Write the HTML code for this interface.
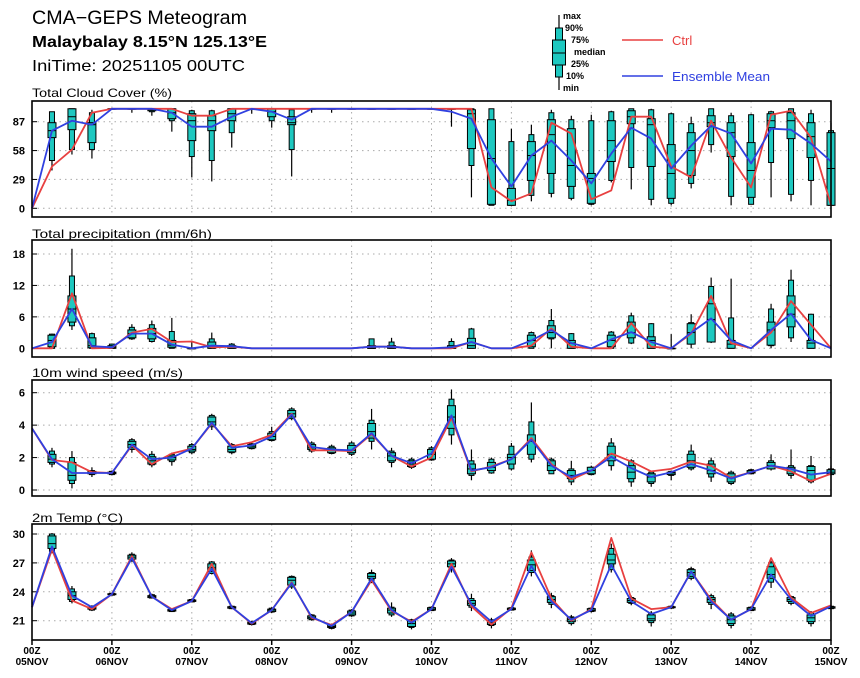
<!DOCTYPE html>
<html><head><meta charset="utf-8">
<style>
html,body{margin:0;padding:0;background:#fff;}
svg{display:block;font-family:"Liberation Sans",sans-serif;}
</style></head>
<body>
<svg id="chart" width="860" height="678" viewBox="0 0 860 678" xmlns="http://www.w3.org/2000/svg">
<rect x="0" y="0" width="860" height="678" fill="#fff"/>
<text x="32" y="24" font-size="19" textLength="215" lengthAdjust="spacingAndGlyphs">CMA−GEPS Meteogram</text>
<text x="32" y="47" font-size="16" font-weight="bold" textLength="235" lengthAdjust="spacingAndGlyphs">Malaybalay 8.15°N 125.13°E</text>
<text x="32" y="71" font-size="16" textLength="213" lengthAdjust="spacingAndGlyphs">IniTime: 20251105 00UTC</text>
<g>
<line x1="559" y1="15" x2="559" y2="90" stroke="#000" stroke-width="1.2"/>
<rect x="555.5" y="28" width="7" height="49" fill="#1ec8c0" stroke="#000"/>
<rect x="552.5" y="40" width="13" height="25" fill="#1ec8c0" stroke="#000"/>
<line x1="552.5" y1="53" x2="565.5" y2="53" stroke="#000"/>
<g font-size="9" font-weight="bold">
<text x="563" y="19">max</text><text x="565" y="31">90%</text><text x="571" y="43">75%</text>
<text x="574" y="55">median</text><text x="571" y="67">25%</text><text x="566" y="79">10%</text><text x="563" y="91">min</text>
</g>
<line x1="622" y1="40" x2="663" y2="40" stroke="#e84040" stroke-width="1.6"/>
<text x="672" y="45" font-size="13" fill="#e84040">Ctrl</text>
<line x1="622" y1="76" x2="663" y2="76" stroke="#3040e0" stroke-width="1.6"/>
<text x="672" y="81" font-size="13" fill="#3040e0" textLength="98" lengthAdjust="spacingAndGlyphs">Ensemble Mean</text>
</g>
</svg>
<script>
// ---- data ----
const dayLabels = ["05NOV","06NOV","07NOV","08NOV","09NOV","10NOV","11NOV","12NOV","13NOV","14NOV","15NOV"];
const cloudTicks = [0,29,58,87];
const precipTicks = [0,6,12,18];
const windTicks = [0,2,4,6];
const tempTicks = [21,24,27,30];

// stats per 6h step: [min,p10,p25,median,p75,p90,max]; null = no box
const cloudStats = [null,
[38,48,71,78,86,97,97],[54,59,79,92,100,100,100],[50,59,66,84,86,96,99],[100,100,100,100,100,100,100],
[96,100,100,100,100,100,100],[93,97,98,99,100,100,100],[77,88,90,96,100,100,100],[31,52,68,88,95,98,99],
[27,48,78,88,93,98,99],[61,76,88,95,100,100,100],[95,100,100,100,100,100,100],[81,88,92,97,100,100,100],
[32,59,84,86,92,99,100],[96,100,100,100,100,100,100],[96,100,100,100,100,100,100],[100,100,100,100,100,100,100],
[100,100,100,100,100,100,100],[100,100,100,100,100,100,100],[100,100,100,100,100,100,100],[100,100,100,100,100,100,100],
[82,100,100,100,100,100,100],[11,43,60,95,99,100,100],[3,3,4,50,89,100,100],[3,3,3,8,20,67,80],
[7,13,28,53,67,74,84],[11,15,35,74,89,96,99],[8,10,22,43,80,89,93],[3,4,5,30,35,88,94],
[26,28,47,68,88,97,98],[19,41,85,92,98,100,100],[3,9,42,84,90,99,100],[3,5,10,35,64,95,96],
[20,25,33,58,76,85,92],[56,64,82,86,93,100,100],[3,12,52,76,86,93,96],[4,4,11,38,66,94,95],
[11,46,81,88,95,97,98],[7,14,70,88,96,100,100],[3,28,51,72,86,95,99],[3,3,3,40,76,78,86]];
const cloudMean = [0,78,88,84,100,100,100,96,82,82,92,100,97,89,100,100,100,100,100,100,100,97,90,50,22,53,68,48,25,55,81,70,40,63,83,75,45,80,79,65,47];
const cloudCtrl = [0,42,59,96,100,100,100,100,93,93,100,100,100,100,100,100,100,100,100,100,100,100,100,21,7,15,86,75,9,18,92,92,42,31,88,51,21,94,98,71,3];

const precipStats = [null,
[0,0,0.3,1.5,2.5,2.7,2.8],[3.5,4.3,5,7.5,10,13.8,19],[0,0,0.1,0.5,2,2.8,3],[0,0,0,0.2,0.5,0.8,0.9],
[1.6,1.8,2,2.8,3.5,4,4.6],[1.1,1.3,1.8,2.8,3.8,4.5,5.3],[0,0,0.2,0.6,1.5,3.2,5.8],[0,0,0,0,0,0,1.2],
[0,0,0,0.5,1.2,1.8,3],[0,0,0,0.3,0.5,0.8,1],null,null,null,null,null,null,
[0,0,0,0,0.5,1.8,1.8],[0,0,0,0.2,0.5,1.2,2],null,null,
[0,0,0,0,0.5,1.3,1.9],[0,0,0,0.5,1.9,3.7,3.9],null,null,
[0,0,0.3,1.5,2.5,3,3.2],[0,1.8,2,3,4.3,5.3,7.5],[0,0,0,1,1.5,2.8,2.9],null,
[0,0,0.3,1.5,2.5,3.1,3.3],[0.8,1,2,3,5,6.2,6.8],[0,0,0,1.5,2.2,4.7,4.8],[0,0,0,0,0,0,2.7],
[0,0.8,0.8,3,4.7,4.9,6.5],[1,1.2,1.2,5.5,8.5,11.8,13.5],[0,0,0,0.8,1.5,5.8,13.3],null,
[0,0.5,0.6,3.5,5,7.5,8.5],[1.2,2,4.1,6.5,10,13,15],[0,0,0,1,1.5,6.5,6.6],null];
const precipMean = [0,1.2,7.5,0.4,0.2,2.8,2.8,0.7,0,0.5,0.4,0,0,0,0,0,0,0.3,0.3,0,0,0.2,1.2,0,0,1.5,3.5,1,0,1.7,3.1,1.2,0,3,5.7,1.5,0,3.5,6.6,1.6,0];
const precipCtrl = [0,0,10.5,0,0.1,3,3.7,1.2,1.3,0.2,0.3,0,0,0,0,0,0,0.3,0.3,0,0,0,1.2,0,0,0.5,3.8,0.3,0,0,4.8,0.3,0,2.8,10,1,0,3,9,4.5,0];

const windStats = [null,
[1.4,1.6,1.7,1.9,2.2,2.4,2.6],[0.1,0.4,0.6,0.9,1.7,2.0,2.4],[0.8,0.95,1.0,1.05,1.15,1.2,1.4],[0.9,0.95,1.0,1.05,1.1,1.15,1.2],
[2.3,2.5,2.6,2.8,3.0,3.1,3.2],[1.4,1.55,1.6,1.8,2.05,2.2,2.4],[1.5,1.75,1.85,2.0,2.1,2.2,2.3],[2.2,2.3,2.4,2.5,2.7,2.8,2.9],
[3.7,3.9,4.0,4.2,4.5,4.6,4.7],[2.2,2.3,2.35,2.5,2.7,2.8,2.9],[2.5,2.55,2.6,2.7,2.8,2.85,2.9],[3.0,3.05,3.1,3.3,3.5,3.6,3.9],
[4.3,4.4,4.5,4.7,4.9,5.0,5.1],[2.3,2.4,2.5,2.6,2.8,2.9,3.0],[2.2,2.25,2.3,2.45,2.6,2.7,2.8],[2.1,2.2,2.3,2.45,2.75,2.9,3.0],
[2.5,3.0,3.2,3.6,4.1,4.3,5.0],[1.4,1.7,1.8,2.1,2.3,2.4,2.6],[1.3,1.4,1.45,1.6,1.8,1.9,2.0],[1.8,1.85,1.9,2.2,2.5,2.6,2.7],
[2.8,3.4,3.8,4.5,5.2,5.6,6.2],[0.6,0.9,1.0,1.3,1.6,1.8,2.5],[1.0,1.05,1.2,1.4,1.7,1.9,2.0],[1.2,1.3,1.6,2.0,2.2,2.7,2.9],
[1.7,1.9,2.2,3.0,3.4,4.2,5.4],[1.0,1.0,1.2,1.5,1.8,1.9,2.0],[0.3,0.5,0.7,0.9,1.2,1.3,1.8],[0.9,0.95,1.0,1.2,1.4,1.4,1.5],
[1.2,1.5,1.8,2.2,2.7,2.9,3.2],[0.2,0.5,0.7,1.1,1.5,1.8,1.9],[0.2,0.4,0.5,0.8,1.0,1.1,1.2],[0.6,0.9,0.95,1.05,1.1,1.15,1.2],
[1.2,1.3,1.4,1.8,2.2,2.4,2.8],[0.5,0.8,1.0,1.2,1.6,1.8,2.0],[0.3,0.4,0.5,0.8,1.0,1.1,1.2],[1.0,1.0,1.05,1.1,1.2,1.25,1.3],
[1.2,1.3,1.3,1.5,1.7,1.8,2.2],[0.7,0.9,1.0,1.3,1.4,1.5,2.5],[0.4,0.5,0.6,1.2,1.45,1.5,2.1],[0.9,0.95,1.0,1.1,1.25,1.3,1.5]];
const windMean = [3.8,1.9,1.05,1.05,1.05,2.8,1.9,2.0,2.55,4.15,2.6,2.75,3.3,4.65,2.65,2.5,2.45,3.5,2.1,1.65,2.25,4.6,1.2,1.4,1.9,3.1,1.5,0.8,1.2,2.05,1.35,0.8,1.1,1.6,1.2,0.7,1.1,1.5,1.3,0.95,1.1];
const windCtrl = [3.8,1.85,1.7,1.1,1.05,2.75,1.6,2.25,2.55,4.1,2.7,2.95,3.4,4.7,2.45,2.45,2.4,3.45,2.1,1.45,2.0,4.45,1.15,1.45,1.9,3.2,1.6,0.65,1.2,2.25,1.75,1.15,1.3,1.75,1.5,0.75,1.1,1.5,1.15,0.55,1.0];

const tempStats = [null,
[28.0,28.2,28.5,29.0,29.8,30.0,30.1],[22.8,23.0,23.2,23.6,24.0,24.3,24.6],[22.0,22.1,22.2,22.3,22.4,22.5,22.6],[23.6,23.65,23.7,23.75,23.8,23.85,23.9],
[27.1,27.3,27.4,27.6,27.8,27.9,28.1],[23.3,23.35,23.4,23.5,23.6,23.7,23.8],[21.9,21.95,22.0,22.1,22.15,22.2,22.3],[22.9,22.95,23.0,23.05,23.15,23.2,23.3],
[25.8,25.9,26.1,26.5,26.9,27.1,27.2],[22.2,22.25,22.3,22.4,22.45,22.5,22.6],[20.5,20.6,20.65,20.75,20.85,20.9,21.0],[21.8,21.9,21.95,22.1,22.2,22.3,22.4],
[24.3,24.5,24.7,25.2,25.5,25.6,25.7],[21.0,21.1,21.2,21.35,21.5,21.6,21.7],[20.1,20.2,20.3,20.4,20.55,20.6,20.7],[21.4,21.5,21.6,21.8,22.0,22.1,22.2],
[24.9,25.2,25.4,25.6,25.9,26.0,26.3],[21.4,21.6,21.8,22.1,22.3,22.4,22.9],[20.1,20.3,20.4,20.7,21.0,21.1,21.2],[22.0,22.05,22.1,22.2,22.35,22.4,22.5],
[26.0,26.4,26.6,26.9,27.2,27.3,27.5],[22.0,22.4,22.6,22.8,23.1,23.3,23.8],[20.2,20.5,20.6,20.8,21.0,21.1,21.3],[22.05,22.1,22.15,22.2,22.3,22.35,22.4],
[25.6,26.0,26.2,26.8,27.3,27.6,28.3],[22.3,22.7,22.9,23.2,23.5,23.6,23.9],[20.5,20.7,20.9,21.1,21.3,21.4,21.6],[21.85,21.95,22.0,22.1,22.25,22.3,22.4],
[26.0,26.3,26.9,27.3,27.9,28.5,29.0],[22.6,22.8,22.9,23.1,23.3,23.4,23.6],[20.4,20.8,21.0,21.2,21.6,21.8,22.0],[22.2,22.3,22.35,22.4,22.45,22.5,22.6],
[25.2,25.4,25.6,26.0,26.3,26.4,26.6],[22.2,22.7,22.9,23.2,23.4,23.6,23.8],[20.2,20.5,20.7,21.1,21.5,21.7,21.9],[22.0,22.05,22.1,22.2,22.35,22.4,22.5],
[24.4,25.0,25.4,25.8,26.6,27.0,27.2],[22.6,22.8,23.0,23.2,23.4,23.5,23.6],[20.4,20.7,20.9,21.3,21.6,21.8,22.0],[22.2,22.25,22.3,22.4,22.45,22.5,22.6]];
const tempMean = [22.4,28.7,23.6,22.4,23.75,27.5,23.5,22.1,23.05,26.4,22.4,20.75,22.1,24.9,21.4,20.45,21.9,25.4,22.1,20.8,22.2,26.6,22.7,20.9,22.2,26.7,23.0,21.1,22.1,26.8,23.0,21.7,22.4,26.1,23.0,21.1,22.2,25.8,23.2,21.5,22.5];
const tempCtrl = [22.4,28.4,23.1,22.2,23.75,27.7,23.5,22.2,23.05,26.9,22.4,20.7,22.1,25.0,21.3,20.55,21.9,25.2,22.0,20.9,22.2,26.9,22.5,20.6,22.3,28.1,23.3,21.0,22.2,29.6,23.3,22.2,22.4,26.1,23.2,21.1,22.2,27.5,23.4,21.8,22.6];

// ---- layout ----
const NS = "http://www.w3.org/2000/svg";
const svg = document.getElementById("chart");
const X0 = 32, X1 = 831, NSTEP = 40;
function xAt(i){ return X0 + (X1 - X0) * i / NSTEP; }
function mk(tag, attrs, parent){ const e = document.createElementNS(NS, tag); for (const k in attrs) e.setAttribute(k, attrs[k]); (parent||svg).appendChild(e); return e; }

const panels = [
 {key:"cloud", title:"Total Cloud Cover (%)", tw:140, top:101, bot:217, titleY:97, v0:0, y0:208.3, v1:87, y1:121.7, ticks:cloudTicks, stats:cloudStats, mean:cloudMean, ctrl:cloudCtrl},
 {key:"precip", title:"Total precipitation (mm/6h)", tw:180, top:240, bot:357, titleY:238, v0:0, y0:348.3, v1:18, y1:254, ticks:precipTicks, stats:precipStats, mean:precipMean, ctrl:precipCtrl},
 {key:"wind", title:"10m wind speed (m/s)", tw:151, top:380, bot:496, titleY:377, v0:0, y0:490, v1:6, y1:392.7, ticks:windTicks, stats:windStats, mean:windMean, ctrl:windCtrl},
 {key:"temp", title:"2m Temp (°C)", tw:91, top:524, bot:640, titleY:522, v0:21, y0:620.7, v1:30, y1:534, ticks:tempTicks, stats:tempStats, mean:tempMean, ctrl:tempCtrl}
];

panels.forEach(function(p){
  const yAt = function(v){ return p.y0 + (v - p.v0) * (p.y1 - p.y0) / (p.v1 - p.v0); };
  const g = mk("g", {});
  
  
  const t = mk("text", {x:32, y:p.titleY, "font-size":12, textLength:p.tw, lengthAdjust:"spacingAndGlyphs"}, g);
  t.textContent = p.title;
  
  
  // grid
  for (let d = 1; d < 10; d++) {
    const gl = mk("line", {x1:xAt(d*4), x2:xAt(d*4), y1:p.top, y2:p.bot, stroke:"#aaa", "stroke-width":1, "stroke-dasharray":"1.5,4"}, g);
    
    
  }
  p.ticks.forEach(function(tv){
    const y = yAt(tv);
    const hl = mk("line", {x1:X0, x2:X1, y1:y, y2:y, stroke:"#aaa", "stroke-width":1, "stroke-dasharray":"1.5,4"}, g);
    
    
    const tk = mk("line", {x1:X0, x2:X0+5, y1:y, y2:y, stroke:"#000", "stroke-width":1}, g);
    
    
    const lb = mk("text", {x:25, y:y+4, "font-size":11, "font-weight":"bold", "text-anchor":"end"}, g);
    lb.textContent = String(tv);
    
    
  });
  // boxes
  p.stats.forEach(function(s, i){
    if (!s) return;
    const x = xAt(i);
    const bg = mk("g", {}, g);
    
    
    mk("line", {x1:x, x2:x, y1:yAt(s[0]), y2:yAt(s[6]), stroke:"#000", "stroke-width":1.2}, bg);
    mk("rect", {x:x-2.5, y:yAt(s[5]), width:5, height:Math.max(0.5, yAt(s[1]) - yAt(s[5])), fill:"#1ec8c0", stroke:"#000", "stroke-width":1}, bg);
    mk("rect", {x:x-4, y:yAt(s[4]), width:8, height:Math.max(0.5, yAt(s[2]) - yAt(s[4])), fill:"#1ec8c0", stroke:"#000", "stroke-width":1}, bg);
    mk("line", {x1:x-4, x2:x+4, y1:yAt(s[3]), y2:yAt(s[3]), stroke:"#000", "stroke-width":1}, bg);
  });
  // lines
  const ctrlPts = p.ctrl.map(function(v,i){ return xAt(i).toFixed(1) + "," + yAt(v).toFixed(1); }).join(" ");
  const cl = mk("polyline", {points:ctrlPts, fill:"none", stroke:"#e84040", "stroke-width":1.8, "stroke-linejoin":"round"}, g);
  
  
  const meanPts = p.mean.map(function(v,i){ return xAt(i).toFixed(1) + "," + yAt(v).toFixed(1); }).join(" ");
  const ml = mk("polyline", {points:meanPts, fill:"none", stroke:"#3040e0", "stroke-width":1.8, "stroke-linejoin":"round"}, g);
  
  
  // frame
  const fr = mk("rect", {x:X0, y:p.top, width:X1-X0, height:p.bot-p.top, fill:"none", stroke:"#000", "stroke-width":1.6}, g);
  
  
});

// x axis
dayLabels.forEach(function(lbl, d){
  const x = xAt(d*4);
  const tk = mk("line", {x1:x, x2:x, y1:640, y2:645, stroke:"#000", "stroke-width":1.5});
  
  
  const t1 = mk("text", {x:x, y:654, "font-size":10, "font-weight":"bold", "text-anchor":"middle"});
  t1.textContent = "00Z";
  
  
  const t2 = mk("text", {x:x, y:665, "font-size":10, "font-weight":"bold", "text-anchor":"middle"});
  t2.textContent = lbl;
  
  
});
</script>
</body></html>
